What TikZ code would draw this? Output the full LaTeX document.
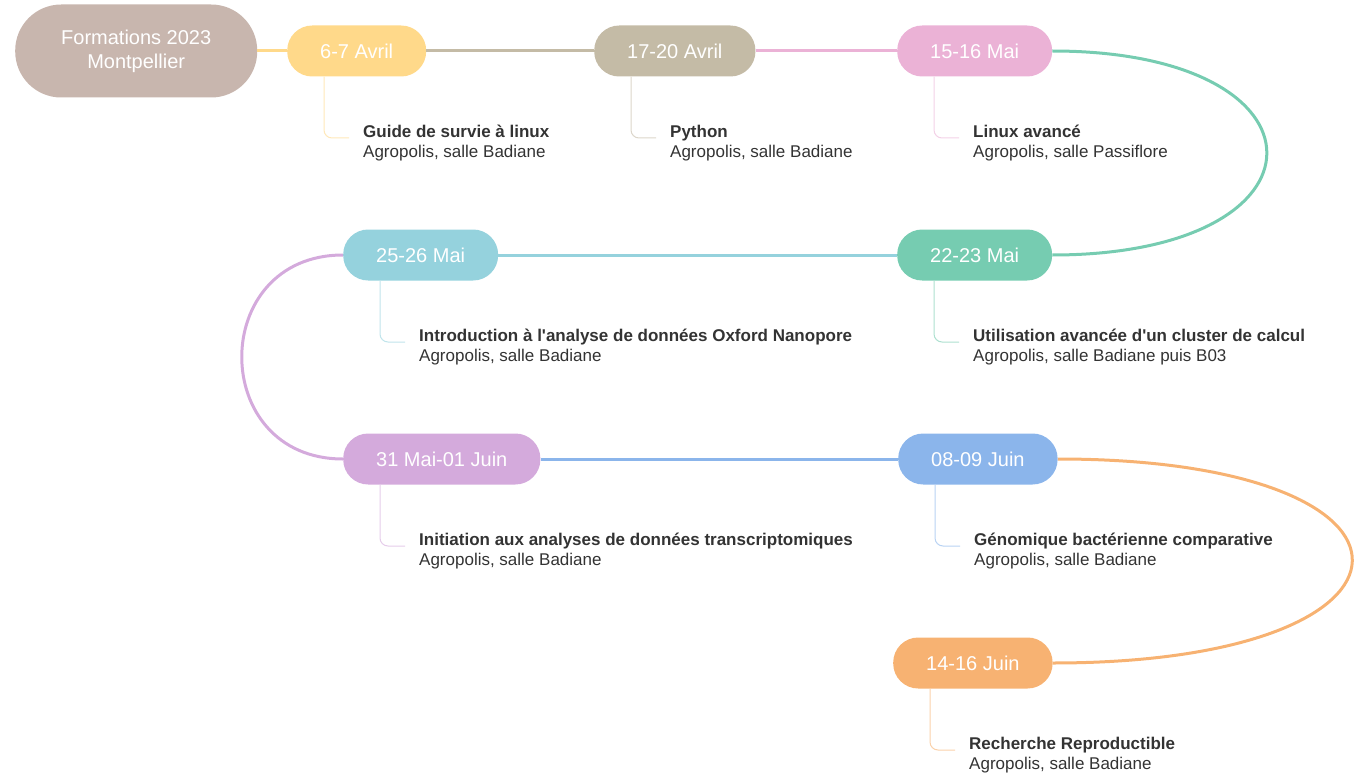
\documentclass[tikz,border=0pt]{standalone}
\usepackage{fontspec}
\setmainfont{Liberation Sans}
\usetikzlibrary{positioning}

\definecolor{cRoot}{HTML}{C8B6AE}
\definecolor{cA}{HTML}{FFD98A}
\definecolor{cB}{HTML}{C4BBA6}
\definecolor{cC}{HTML}{EBB2D6}
\definecolor{cD}{HTML}{76CCB1}
\definecolor{cE}{HTML}{95D2DD}
\definecolor{cF}{HTML}{D4AADC}
\definecolor{cG}{HTML}{8BB5EB}
\definecolor{cH}{HTML}{F7B272}
\definecolor{textgray}{HTML}{333333}

% nom/x/y/couleur/dates/titre/lieu
\def\sessions{
  a/287/51/cA/{6-7 Avril}/{Guide de survie à linux}/{Agropolis, salle Badiane},
  b/594/51/cB/{17-20 Avril}/{Python}/{Agropolis, salle Badiane},
  c/897/51/cC/{15-16 Mai}/{Linux avancé}/{Agropolis, salle Passiflore},
  d/897/255/cD/{22-23 Mai}/{Utilisation avancée d\textquotesingle un cluster de calcul}/{Agropolis, salle Badiane puis B03},
  e/343/255/cE/{25-26 Mai}/{Introduction à l\textquotesingle analyse de données Oxford Nanopore}/{Agropolis, salle Badiane},
  f/343/459/cF/{31 Mai-01 Juin}/{Initiation aux analyses de données transcriptomiques}/{Agropolis, salle Badiane},
  g/898/459/cG/{08-09 Juin}/{Génomique bactérienne comparative}/{Agropolis, salle Badiane},
  h/893/663/cH/{14-16 Juin}/{Recherche Reproductible}/{Agropolis, salle Badiane}
}

\begin{document}
\begin{tikzpicture}[x=1pt, y=-1pt,
    pastille/.style={rectangle, rounded corners=25pt, minimum height=51pt,
      inner xsep=33pt, inner ysep=0pt, text=white,
      font=\fontsize{20}{24}\selectfont},
    info/.style={anchor=west, inner sep=0pt, align=left, text=textgray,
      font=\fontsize{17}{20}\selectfont},
    lien/.style={line width=3pt},
    branche/.style={line width=1pt, rounded corners=8pt}]

\useasboundingbox (0,0) rectangle (1355,773);

% Depart
\node[pastille, fill=cRoot, anchor=west, minimum width=242pt, minimum height=93pt,
  rounded corners=46pt, inner xsep=0pt, align=center] (root) at (15,51)
  {Formations 2023\\Montpellier};

% Sessions
\foreach \name/\x/\y/\col/\jour/\titre/\lieu in \sessions {
  \node[pastille, fill=\col, anchor=west] (\name) at (\x,\y) {\jour};
  \node[info] (t\name) at ([xshift=76pt, yshift=-92pt]\name.west) {\textbf{\titre}\\\lieu};
  \draw[branche, \col!60] ([xshift=37pt]\name.south west) |- ([xshift=-14pt, yshift=5pt]t\name.west);
}

% Liaisons
\draw[lien, cA] (root) -- (a);
\draw[lien, cB] (a) -- (b);
\draw[lien, cC] (b) -- (c);
\draw[lien, cD] (c.east) .. controls +(286,0) and +(286,0) .. (d.east);
\draw[lien, cE] (d) -- (e);
\draw[lien, cF] (e.west) .. controls +(-135,0) and +(-135,0) .. (f.west);
\draw[lien, cG] (f) -- (g);
\draw[lien, cH] (g.east) .. controls +(396,0) and +(396,0) .. (h.east);

\end{tikzpicture}
\end{document}
